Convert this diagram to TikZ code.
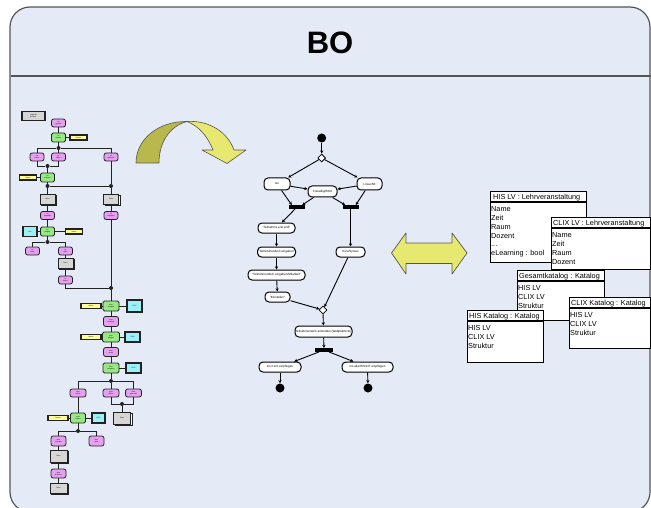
\documentclass[tikz,border=0pt]{standalone}
\usepackage{fontspec}
\setmainfont{Liberation Sans}
\usetikzlibrary{shapes.misc,shapes.geometric,shadows,arrows.meta}
\definecolor{bg}{HTML}{E5EBF6}
\definecolor{framec}{HTML}{555555}
\definecolor{dk}{HTML}{222222}
\definecolor{evtc}{HTML}{E6A0F0}
\definecolor{func}{HTML}{98E884}
\definecolor{orgc}{HTML}{FFFF99}
\definecolor{infc}{HTML}{9CF0F8}
\definecolor{docc}{HTML}{D6D6D6}
\definecolor{olive}{HTML}{B8B84C}
\definecolor{lyel}{HTML}{E6E870}
\newcommand\lftxt{\fontsize{1.7}{1.9}\selectfont}
\newcommand\mdtxt{\fontsize{3}{3.3}\selectfont}
\newcommand\cltxt{\fontsize{7.3}{8.8}\selectfont}
\begin{document}
\begin{tikzpicture}[x=1pt,y=-1pt,
  con/.style={draw=dk,line width=0.9pt},
  evt/.style={rectangle,rounded corners=2.2pt,draw=dk,fill=evtc,line width=0.8pt,inner sep=0pt,minimum width=14pt,minimum height=8pt,font=\lftxt,align=center},
  fun/.style={rectangle,rounded corners=1.5pt,draw=dk,fill=func,line width=0.9pt,inner sep=0pt,minimum width=14pt,minimum height=9pt,font=\lftxt,align=center},
  org/.style={rectangle,draw=dk,fill=orgc,line width=1.1pt,inner sep=0pt,minimum width=17pt,minimum height=5pt,font=\lftxt},
  inf/.style={rectangle,draw=dk,fill=infc,line width=1.1pt,inner sep=0pt,minimum width=14pt,minimum height=10pt,font=\lftxt},
  docn/.style={rectangle,draw=dk,fill=docc,line width=0.8pt,inner sep=0pt,minimum width=15pt,minimum height=10pt,font=\lftxt,align=center,
     copy shadow={shadow xshift=1.6pt,shadow yshift=-1.6pt,fill=white,draw=dk,line width=0.8pt}},
  jn/.style={circle,fill=dk,inner sep=0pt,minimum size=4pt},
  act/.style={rectangle,rounded corners=4pt,draw=black,fill=white,line width=1pt,inner sep=0pt,minimum height=10pt,font=\mdtxt},
  dec/.style={diamond,draw=black,fill=white,line width=0.8pt,inner sep=0pt,minimum width=8pt,minimum height=8pt},
  bar/.style={rectangle,fill=black,inner sep=0pt,minimum width=16pt,minimum height=3.5pt},
  dot/.style={circle,fill=black,inner sep=0pt,minimum size=9pt},
  arr/.style={draw=black,line width=0.9pt,-{Stealth[length=3.2pt,width=3.2pt]}},
  cls/.style={rectangle,draw=black,fill=white,line width=1.1pt,inner sep=0pt,anchor=north west},
  ctitle/.style={anchor=base west,inner sep=0pt,font=\cltxt},
  cattr/.style={anchor=base west,inner sep=0pt,font=\cltxt},
  sepl/.style={draw=black,line width=1.5pt}
]
\useasboundingbox (0,0) rectangle (651,508);
\begin{scope}
\clip (0,0) rectangle (651,508);
\draw[fill=bg,draw=framec,line width=1.2pt,rounded corners=20pt] (10,7) rectangle (650,512);
\end{scope}
\node[font=\fontsize{31}{31}\selectfont\bfseries] (title) at (330,43) {BO};
\draw[draw=framec,line width=1.2pt] (11,76) -- (651,76);

% ---------------- left EPC flowchart ----------------
\node[rectangle,draw=dk,fill=docc,line width=1.2pt,minimum width=23pt,minimum height=9pt,inner sep=0pt,font=\lftxt,align=left] (H0) at (33.5,116) {Legende\\Prozess};
\node[evt] (E1) at (58.5,123) {LV\\geplant};
\node[fun] (F1) at (58.5,137.5) {LV\\planen};
\node[org] (O1) at (78.5,137.5) {Dozent};
\node[jn]  (J1) at (58.5,148) {};
\node[evt] (E2) at (37,157) {LV\\online};
\node[evt] (E3) at (58.5,157) {LV\\offline};
\node[evt] (E4) at (111,157) {LV\\gemischt};
\node[jn]  (J2) at (47.5,166) {};
\node[fun] (F2) at (47.5,177.5) {LV\\anlegen};
\node[org] (O2) at (28,177.5) {Admin};
\node[jn]  (J3) at (47.5,186) {};
\node[jn]  (J4) at (111,186) {};
\node[docn] (D1) at (47.5,199) {Doku};
\node[docn] (D2) at (111,199) {Doku};
\node[evt] (E5) at (47.5,215.5) {LV\\angelegt};
\node[evt] (E6) at (111,215.5) {LV\\angelegt};
\node[inf] (I1) at (30,231.5) {HIS};
\node[fun] (F3) at (47.5,231.5) {LV\\pflegen};
\node[org] (O3) at (74,231.5) {Admin};
\node[jn]  (J5) at (47.5,242) {};
\node[evt] (E7) at (32.5,251) {LV\\fertig};
\node[evt] (E8) at (65.5,251) {LV\\offen};
\node[docn] (D3) at (65.5,263) {Doku};
\node[evt] (E9) at (65.5,280) {LV\\bereit};
\node[jn]  (J6) at (111,288) {};
\node[fun,minimum width=16pt,minimum height=10pt] (F4) at (111,306) {Kurs\\anlegen};
\node[org,minimum width=20pt] (O4) at (91,306) {Admin};
\node[inf,minimum width=15pt,minimum height=12pt] (I2) at (134.5,306) {CLIX};
\node[evt,minimum width=15pt,minimum height=10pt] (E10) at (111,321.5) {Kurs\\angelegt};
\node[fun,minimum width=17pt,minimum height=10pt] (F5) at (111,337) {Kurs\\pflegen};
\node[org,minimum width=20pt] (O5) at (91,337) {Admin};
\node[inf,minimum width=15pt] (I3) at (132.5,337) {CLIX};
\node[evt,minimum width=15pt,minimum height=9pt] (E11) at (111,352) {Kurs\\bereit};
\node[fun,minimum width=16pt,minimum height=10pt] (F6) at (111,368) {Kurs\\freigeben};
\node[inf,minimum width=15pt] (I4) at (133.5,368) {CLIX};
\node[jn]  (J7) at (111,381) {};
\node[evt,minimum width=16pt] (E12) at (78,393) {Kurs\\online};
\node[evt,minimum width=16pt] (E13) at (111,393) {Kurs\\offline};
\node[evt,minimum width=16pt] (E14) at (133.5,393) {Kurs\\gemischt};
\node[jn]  (J8) at (122,404) {};
\node[docn,minimum width=17pt,minimum height=12pt] (D4) at (122,418) {Doku};
\node[fun,minimum width=15pt,minimum height=10pt] (F7) at (78,418) {Kurs\\nutzen};
\node[org,minimum width=20pt] (O6) at (58,418) {Dozent};
\node[inf,minimum width=13pt] (I5) at (98.5,418) {CLIX};
\node[jn]  (J9) at (78,431) {};
\node[evt,minimum width=15pt,minimum height=10pt] (E15) at (58.5,441) {Kurs\\beendet};
\node[evt,minimum width=15pt,minimum height=10pt] (E16) at (96.5,441) {Kurs\\aktiv};
\node[docn,minimum width=17pt,minimum height=12pt] (D5) at (58.5,456) {Doku};
\node[evt,minimum width=15pt,minimum height=9pt] (E17) at (58.5,473.5) {Kurs\\archiviert};
\node[docn,minimum width=17pt,minimum height=10pt] (D6) at (58.5,488) {Doku};

\draw[con] (E1) -- (F1);
\draw[con] (F1) -- (O1);
\draw[con] (F1) -- (J1);
\draw[con] (J1) -| (E2);
\draw[con] (J1) -- (E3);
\draw[con] (J1) -| (E4);
\draw[con] (E2) |- (J2);
\draw[con] (E3) |- (J2);
\draw[con] (J2) -- (F2);
\draw[con] (O2) -- (F2);
\draw[con] (F2) -- (J3);
\draw[con] (J3) -- (J4);
\draw[con] (E4) -- (J4);
\draw[con] (J3) -- (D1);
\draw[con] (J4) -- (D2);
\draw[con] (D1) -- (E5);
\draw[con] (D2) -- (E6);
\draw[con] (E5) -- (F3);
\draw[con] (I1) -- (F3);
\draw[con] (F3) -- (O3);
\draw[con] (F3) -- (J5);
\draw[con] (J5) -| (E7);
\draw[con] (J5) -| (E8);
\draw[con] (E8) -- (D3);
\draw[con] (D3) -- (E9);
\draw[con] (E9) |- (J6);
\draw[con] (E6) -- (J6);
\draw[con] (J6) -- (F4);
\draw[con] (O4) -- (F4);
\draw[con] (F4) -- (I2);
\draw[con] (F4) -- (E10);
\draw[con] (E10) -- (F5);
\draw[con] (O5) -- (F5);
\draw[con] (F5) -- (I3);
\draw[con] (F5) -- (E11);
\draw[con] (E11) -- (F6);
\draw[con] (F6) -- (I4);
\draw[con] (F6) -- (J7);
\draw[con] (J7) -| (E12);
\draw[con] (J7) -- (E13);
\draw[con] (J7) -| (E14);
\draw[con] (E13) |- (J8);
\draw[con] (E14) |- (J8);
\draw[con] (J8) -- (D4);
\draw[con] (E12) -- (F7);
\draw[con] (O6) -- (F7);
\draw[con] (F7) -- (I5);
\draw[con] (F7) -- (J9);
\draw[con] (J9) -| (E15);
\draw[con] (J9) -| (E16);
\draw[con] (E15) -- (D5);
\draw[con] (D5) -- (E17);
\draw[con] (E17) -- (D6);

% ---------------- curved arrow ----------------
\draw[fill=olive,draw=framec,line width=0.6pt,line join=round]
  (136,163) .. controls (136,138) and (160,121) .. (187,121.5)
  .. controls (170,126) and (159,142) .. (159,163) -- cycle;
\draw[fill=lyel,draw=framec,line width=0.6pt,line join=round]
  (187,121.5) .. controls (210,120) and (228,133) .. (234,150)
  -- (246,150) -- (227,163.5) -- (202,150) -- (213,150)
  .. controls (208,137) and (199,126) .. (187,121.5) -- cycle;

% ---------------- double arrow ----------------
\draw[fill=lyel,draw=framec,line width=0.7pt,line join=round]
  (391.5,253) -- (406,233) -- (406,243) -- (452,243) -- (452,233) -- (467,253)
  -- (452,274) -- (452,263.5) -- (406,263.5) -- (406,274) -- cycle;

% ---------------- activity diagram ----------------
\node[dot] (init) at (321.7,138) {};
\node[dec] (dec1) at (321.7,158) {};
\node[act,minimum width=26pt,minimum height=12pt] (A1) at (277,184) {stx};
\node[act,minimum width=29pt,minimum height=11pt] (A2) at (322.5,191.5) {Freiwillig/BSO};
\node[act,minimum width=25pt,minimum height=12pt] (A3) at (369.5,184) {Linux/AE};
\node[bar] (bar1) at (297,207) {};
\node[bar] (bar2) at (350.5,207) {};
\node[act,minimum width=37pt] (A4) at (276.5,228) {"Teilnahme erst prüf"};
\node[act,minimum width=38pt] (A5) at (276.5,252) {"Teilnehmende/n eingeben"};
\node[act,minimum width=57pt] (A6) at (276.5,275) {"Teilnehmende/n eingeben/Mitarbeit"};
\node[act,minimum width=25pt] (A7) at (277.5,297) {"Einstellen"};
\node[act,minimum width=29pt] (A8) at (350.5,252) {Kurs/Syntax};
\node[dec] (dec2) at (323,310) {};
\node[act,minimum width=57pt,minimum height=11pt] (A9) at (323.5,331.5) {Teilnehmende/n anmelden (Webplattform)};
\node[bar,minimum width=18pt] (bar3) at (324,350) {};
\node[act,minimum width=42pt] (A10) at (280,367) {Ins CLIX einpflegen};
\node[act,minimum width=51pt] (A11) at (367.5,367) {Ins alte/HIS/CIT einpflegen};
\node[dot] (fin1) at (280,388) {};
\node[dot] (fin2) at (368,388) {};

\draw[arr] (init) -- (dec1);
\draw[arr] (dec1) -- (A1);
\draw[arr] (dec1) -- (A3);
\draw[arr] (A1) -- (A2);
\draw[arr] (A3) -- (A2);
\draw[arr] (A1) -- ([xshift=3pt]bar1.north west);
\draw[arr] (A2) -- ([xshift=-3pt]bar1.north east);
\draw[arr] (A2) -- ([xshift=3pt]bar2.north west);
\draw[arr] (A3) -- ([xshift=-3pt]bar2.north east);
\draw[arr] (bar1) -- (A4);
\draw[arr] (bar2) -- (A8);
\draw[arr] (A4) -- (A5);
\draw[arr] (A5) -- (A6);
\draw[arr] (A6) -- (A7);
\draw[arr] (A7) -- (dec2);
\draw[arr] (A8) -- (dec2);
\draw[arr] (dec2) -- (A9);
\draw[arr] (A9) -- (bar3);
\draw[arr] (bar3) -- (A10);
\draw[arr] (bar3) -- (A11);
\draw[arr] (A10) -- (fin1);
\draw[arr] (A11) -- (fin2);

% ---------------- class boxes ----------------
% HIS LV
\node[cls,minimum width=96pt,minimum height=71pt] (hislv) at (490,191) {};
\draw[sepl] ([yshift=-11pt]hislv.north west) -- ([yshift=-11pt]hislv.north east);
\node[ctitle] (hislvT) at (493,199.2) {\underline{HIS LV : Lehrveranstaltung}};
\node[cattr] (hislv-1) at (491,211.7) {Name};
\node[cattr] (hislv-2) at (491,220.5) {Zeit};
\node[cattr] (hislv-3) at (491,229.3) {Raum};
\node[cattr] (hislv-4) at (491,238.1) {Dozent};
\node[cattr] (hislv-5) at (491,246.9) {...};
\node[cattr] (hislv-6) at (491,255.7) {eLearning : bool};
% CLIX LV
\node[cls,minimum width=99pt,minimum height=52pt] (clixlv) at (551,217) {};
\draw[sepl] ([yshift=-11pt]clixlv.north west) -- ([yshift=-11pt]clixlv.north east);
\node[ctitle] (clixlvT) at (553,225.2) {\underline{CLIX LV : Lehrveranstaltung}};
\foreach \t [count=\i] in {Name,Zeit,Raum,Dozent}
  \node[cattr] (clixlv-\i) at (552,228.9+8.8*\i) {\t};
% Gesamtkatalog
\node[cls,minimum width=87pt,minimum height=50pt] (gesk) at (517,270) {};
\draw[sepl] ([yshift=-11pt]gesk.north west) -- ([yshift=-11pt]gesk.north east);
\node[ctitle] (geskT) at (519,278.2) {\underline{Gesamtkatalog : Katalog}};
\foreach \t [count=\i] in {HIS LV,CLIX LV,Struktur}
  \node[cattr] (gesk-\i) at (518,281.9+8.8*\i) {\t};
% CLIX Katalog
\node[cls,minimum width=81pt,minimum height=51pt] (clixk) at (569,297) {};
\draw[sepl] ([yshift=-11pt]clixk.north west) -- ([yshift=-11pt]clixk.north east);
\node[ctitle] (clixkT) at (571,305.2) {\underline{CLIX Katalog : Katalog}};
\foreach \t [count=\i] in {HIS LV,CLIX LV,Struktur}
  \node[cattr] (clixk-\i) at (570,308.9+8.8*\i) {\t};
% HIS Katalog
\node[cls,minimum width=76pt,minimum height=52pt] (hisk) at (467,310) {};
\draw[sepl] ([yshift=-11pt]hisk.north west) -- ([yshift=-11pt]hisk.north east);
\node[ctitle] (hiskT) at (469,318.2) {\underline{HIS Katalog : Katalog}};
\foreach \t [count=\i] in {HIS LV,CLIX LV,Struktur}
  \node[cattr] (hisk-\i) at (468,321.9+8.8*\i) {\t};
\end{tikzpicture}
\end{document}
